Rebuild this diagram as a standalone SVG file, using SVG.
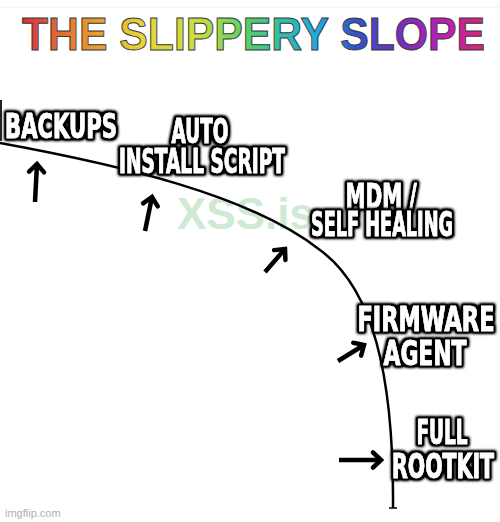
<svg xmlns="http://www.w3.org/2000/svg" width="500" height="522" viewBox="0 0 500 522">
<style>
.lbl{font-family:"Liberation Sans Narrow","DejaVu Sans Condensed","Liberation Sans",sans-serif;font-weight:bold;font-size:33px;fill:#fff;stroke:#fff;stroke-width:0.6px;text-anchor:middle;filter:url(#glow)}
.arr{fill:none;stroke:#000;stroke-width:4.5;stroke-linecap:butt;marker-end:url(#head)}
.title{font-family:"Liberation Sans",Arial,sans-serif;font-weight:bold;font-size:46px;fill:url(#rainbow);stroke:#3a3a3a;stroke-width:1px}
</style>
<defs>
<linearGradient id="rainbow" gradientUnits="userSpaceOnUse" x1="22" y1="0" x2="485" y2="0">
<stop offset="0" stop-color="#d8303f"/>
<stop offset="0.12" stop-color="#e8862c"/>
<stop offset="0.26" stop-color="#e6d43a"/>
<stop offset="0.38" stop-color="#c8e040"/>
<stop offset="0.48" stop-color="#5ccf62"/>
<stop offset="0.56" stop-color="#2fbfa8"/>
<stop offset="0.64" stop-color="#22a6e0"/>
<stop offset="0.72" stop-color="#3550c8"/>
<stop offset="0.82" stop-color="#7a2cc0"/>
<stop offset="0.92" stop-color="#c21eb0"/>
<stop offset="1" stop-color="#d8286e"/>
</linearGradient>
<filter id="glow" x="-20%" y="-50%" width="140%" height="200%">
<feMorphology in="SourceAlpha" operator="dilate" radius="1.8" result="d"/>
<feGaussianBlur in="d" stdDeviation="1.6" result="b"/>
<feComponentTransfer in="b" result="s"><feFuncA type="linear" slope="1.8"/></feComponentTransfer>
<feMerge><feMergeNode in="s"/><feMergeNode in="SourceGraphic"/></feMerge>
</filter>
<marker id="head" markerUnits="userSpaceOnUse" markerWidth="24" markerHeight="24" refX="12" refY="12" orient="auto" viewBox="0 0 24 24">
<path d="M4,4.5 L12,12 L4,19.5" fill="none" stroke="#000" stroke-width="4.5" stroke-linecap="round" stroke-linejoin="miter"/>
</marker>
</defs>
<rect width="500" height="522" fill="#fff"/>
<line x1="0" y1="7" x2="500" y2="7" stroke="#f0f0f0" stroke-width="1"/>
<text class="title" x="22" y="50" textLength="463" lengthAdjust="spacingAndGlyphs">THE SLIPPERY SLOPE</text>
<text x="177" y="229" font-family="'Liberation Sans',Arial,sans-serif" font-weight="bold" font-size="44" fill="#cfe9d2">XSS.is</text>
<g id="slope">
<line x1="1" y1="100" x2="1" y2="141" stroke="#222" stroke-width="2"/>
<path d="M0,143 C120,165 250,195 320,250 C372,288 394,372 393,508" fill="none" stroke="#000" stroke-width="2.5"/>
<line x1="389" y1="508" x2="397" y2="508" stroke="#000" stroke-width="1.5"/>
</g>
<g id="connectors">
<path class="arr" d="M35,202 L37,164"/>
<path class="arr" d="M145,231 L152,197"/>
<path class="arr" d="M265,272 L285,249"/>
<path class="arr" d="M338,361 L364,345"/>
<path class="arr" d="M339,460 L381,460"/>
</g>
<g id="backups"><text class="lbl" x="61" y="138" textLength="112" lengthAdjust="spacingAndGlyphs">BACKUPS</text></g>
<g id="auto-install-script">
<text class="lbl" x="200" y="143" textLength="57" lengthAdjust="spacingAndGlyphs">AUTO</text>
<text class="lbl" x="202" y="173" textLength="166" lengthAdjust="spacingAndGlyphs">INSTALL SCRIPT</text>
</g>
<g id="mdm-self-healing">
<text class="lbl" x="381" y="208" textLength="71" lengthAdjust="spacingAndGlyphs">MDM /</text>
<text class="lbl" x="382" y="236" textLength="142" lengthAdjust="spacingAndGlyphs">SELF HEALING</text>
</g>
<g id="firmware-agent">
<text class="lbl" x="426" y="331" textLength="137" lengthAdjust="spacingAndGlyphs">FIRMWARE</text>
<text class="lbl" x="425" y="365" textLength="83" lengthAdjust="spacingAndGlyphs">AGENT</text>
</g>
<g id="full-rootkit">
<text class="lbl" x="442" y="444" textLength="51" lengthAdjust="spacingAndGlyphs">FULL</text>
<text class="lbl" x="443" y="478" textLength="102" lengthAdjust="spacingAndGlyphs">ROOTKIT</text>
</g>
<text x="5" y="517" font-family="'Liberation Sans',Arial,sans-serif" font-size="11" fill="#b0b0b0">imgflip.com</text>
</svg>
